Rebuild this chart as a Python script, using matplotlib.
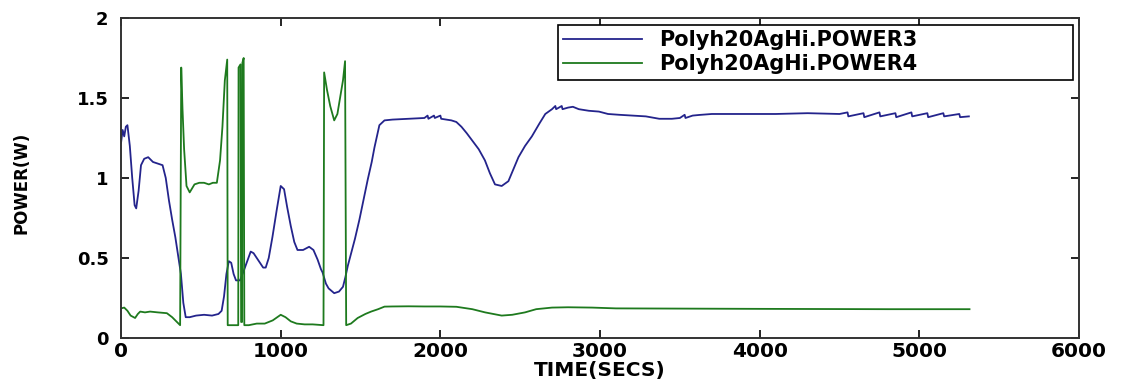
import matplotlib.pyplot as plt

# POWER3 (blue)
t3 = [0, 10, 20, 30, 40, 55, 70, 85, 95, 110, 125, 145, 170, 200, 230, 260, 280, 300,
      320, 340, 360, 375, 390, 405, 430, 470, 520, 570, 610, 630, 645, 660, 675, 690,
      705, 720, 745, 765, 790, 812, 830, 850, 870, 890, 906, 925, 948, 975, 1000, 1021,
      1040, 1063, 1085, 1105, 1140, 1178, 1205, 1231, 1252, 1262, 1283, 1300, 1335,
      1365, 1390, 1405, 1420, 1436, 1465, 1493, 1520, 1545, 1570, 1587, 1605, 1618,
      1650, 1700, 1800, 1900, 1920, 1925, 1960, 1965, 2000, 2005, 2069, 2100, 2132,
      2165, 2195, 2240, 2279, 2310, 2342, 2384, 2426, 2460, 2489, 2530, 2573, 2620,
      2657, 2699, 2720, 2725, 2760, 2765, 2800, 2830, 2867, 2930, 2993, 3050, 3119,
      3200, 3287, 3371, 3450, 3500, 3530, 3535, 3580, 3622, 3700, 3800, 3958, 4100,
      4300, 4500, 4550, 4555, 4650, 4655, 4750, 4755, 4850, 4855, 4950, 4955, 5050,
      5055, 5150, 5155, 5250, 5255, 5310]
p3 = [1.22, 1.30, 1.26, 1.32, 1.33, 1.20, 1.00, 0.83, 0.81, 0.92, 1.08, 1.12, 1.13, 1.10,
      1.09, 1.08, 1.00, 0.86, 0.74, 0.63, 0.50, 0.40, 0.22, 0.13, 0.13, 0.14, 0.145,
      0.14, 0.15, 0.17, 0.26, 0.40, 0.48, 0.47, 0.40, 0.36, 0.36, 0.41, 0.48, 0.54,
      0.53, 0.50, 0.47, 0.44, 0.44, 0.50, 0.63, 0.80, 0.95, 0.93, 0.82, 0.70, 0.60,
      0.55, 0.55, 0.57, 0.55, 0.49, 0.43, 0.41, 0.34, 0.31, 0.28, 0.29, 0.32, 0.38,
      0.45, 0.51, 0.62, 0.74, 0.87, 0.99, 1.10, 1.19, 1.27, 1.33, 1.36, 1.365, 1.37,
      1.375, 1.39, 1.37, 1.39, 1.375, 1.39, 1.37, 1.36, 1.35, 1.32, 1.28, 1.24, 1.18,
      1.11, 1.03, 0.96, 0.95, 0.98, 1.06, 1.13, 1.20, 1.26, 1.34, 1.40, 1.43, 1.45,
      1.43, 1.45, 1.43, 1.44, 1.445, 1.43, 1.42, 1.415, 1.40, 1.395, 1.39, 1.385,
      1.37, 1.37, 1.375, 1.395, 1.375, 1.39, 1.394, 1.40, 1.40, 1.40, 1.40, 1.405,
      1.40, 1.41, 1.385, 1.405, 1.38, 1.41, 1.385, 1.405, 1.38, 1.41, 1.385, 1.405,
      1.38, 1.405, 1.385, 1.40, 1.38, 1.385]

# POWER4 (green)
t4 = [0, 20, 40, 60, 88, 105, 120, 150, 182, 230, 287, 320, 350, 370, 377, 385, 395,
      410, 430, 460, 490, 520, 550, 575, 600, 620, 635, 650, 665, 668, 700, 734, 736,
      748, 752, 758, 760, 768, 772, 800, 850, 900, 950, 1000, 1030, 1063, 1100, 1150,
      1200, 1268, 1272, 1290, 1310, 1335, 1355, 1375, 1390, 1403, 1410, 1440, 1482,
      1530, 1566, 1610, 1650, 1700, 1800, 1900, 2000, 2100, 2200, 2280, 2384, 2450,
      2530, 2600, 2699, 2800, 2950, 3100, 4000, 4800, 5314]
p4 = [0.185, 0.19, 0.17, 0.14, 0.125, 0.15, 0.165, 0.16, 0.165, 0.16, 0.155, 0.13, 0.10,
      0.08, 1.69, 1.43, 1.18, 0.95, 0.91, 0.96, 0.97, 0.97, 0.96, 0.97, 0.97, 1.11,
      1.32, 1.61, 1.74, 0.08, 0.08, 0.08, 1.69, 1.71, 0.10, 0.10, 1.72, 1.75, 0.08,
      0.08, 0.09, 0.09, 0.11, 0.145, 0.13, 0.104, 0.09, 0.085, 0.085, 0.08, 1.66,
      1.55, 1.45, 1.36, 1.40, 1.52, 1.61, 1.73, 0.08, 0.09, 0.125, 0.15, 0.165, 0.18,
      0.196, 0.197, 0.198, 0.197, 0.197, 0.195, 0.18, 0.16, 0.14, 0.145, 0.16, 0.18,
      0.19, 0.192, 0.19, 0.185, 0.182, 0.18, 0.18]

xticks = [0, 1000, 2000, 3000, 4000, 5000, 6000]
yticks = [0, 0.5, 1, 1.5, 2]
ytick_labels = ['0', '0.5', '1', '1.5', '2']

plt.rcParams['font.family'] = 'DejaVu Sans'
fig = plt.figure(figsize=(11.26, 3.81), dpi=100)
ax = fig.add_axes([0.1075, 0.1129, 0.8508, 0.8399])

ax.plot(t3, p3, color='#24248c', lw=1.3, label='Polyh20AgHi.POWER3')
ax.plot(t4, p4, color='#1e7a1e', lw=1.3, label='Polyh20AgHi.POWER4')

ax.set_xlim(0, 6000)
ax.set_ylim(0, 2)
ax.set_xticks(xticks)
ax.set_yticks(yticks)
ax.set_yticklabels(ytick_labels)
ax.tick_params(direction='in', top=True, right=True, length=6, width=1.2)
ax.tick_params(axis='x', labelsize=14.5, pad=3)
ax.tick_params(axis='y', labelsize=13, pad=9)
for lab in ax.get_xticklabels() + ax.get_yticklabels():
    lab.set_fontweight('bold')
for s in ax.spines.values():
    s.set_linewidth(1.4)
    s.set_color('#333333')

ax.set_xlabel('TIME(SECS)', fontsize=14.5, fontweight='bold')
ax.xaxis.set_label_coords(0.5, -0.072)
ax.set_ylabel('POWER(W)', fontsize=12, fontweight='bold')
ax.yaxis.set_label_coords(-0.095, 0.484)

leg = ax.legend(loc='upper left', bbox_to_anchor=(0.456, 0.80, 0.538, 0.178),
                mode='expand', fancybox=False, framealpha=1, edgecolor='black',
                prop={'weight': 'bold', 'size': 15}, handlelength=3.8,
                labelspacing=0.2, borderpad=0.25, borderaxespad=0)
leg.get_frame().set_linewidth(1.2)

plt.savefig('out.png', dpi=100)
